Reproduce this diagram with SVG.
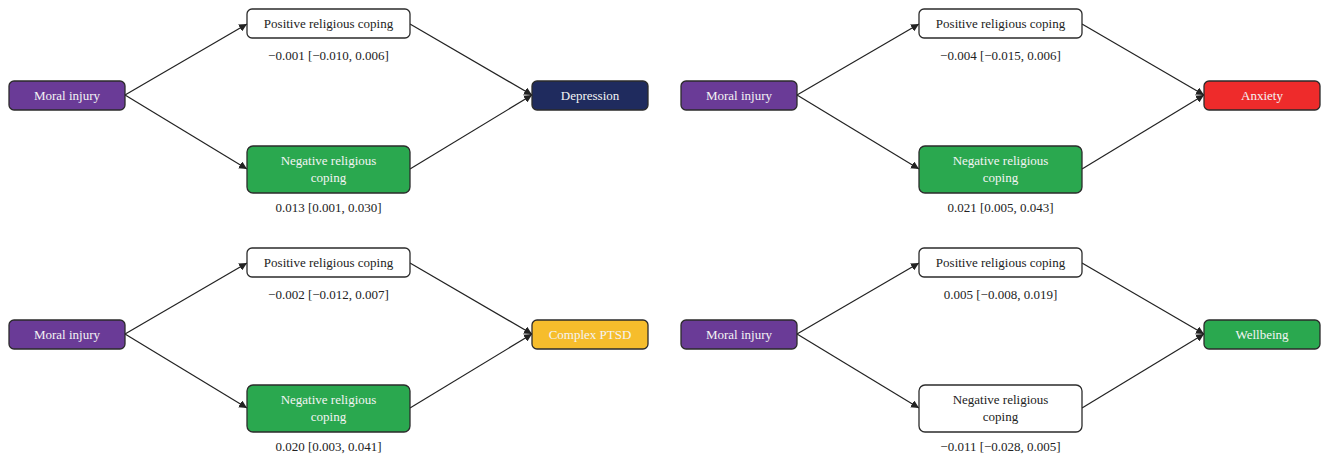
<svg xmlns="http://www.w3.org/2000/svg" width="1321" height="460" viewBox="0 0 1321 460">
<style>
.box{stroke:#2b2b2b;stroke-width:1.3}
.w{fill:#ffffff}
.pur{fill:#6a3b97}
.nav{fill:#1f2b5e}
.grn{fill:#2aa84f}
.red{fill:#ee2b2b}
.yel{fill:#f6bd2c}
text{font-family:"Liberation Serif","Times New Roman",serif;font-size:13px;text-anchor:middle}
.lt{fill:#f4f4f4}
.dk{fill:#222}
.edge{stroke:#222;stroke-width:1.2;fill:none;marker-end:url(#ah)}
</style>
<defs>
<marker id="ah" viewBox="0 0 10 10" refX="10" refY="5" markerWidth="8" markerHeight="8" markerUnits="userSpaceOnUse" orient="auto">
<path d="M0,0 L10,5 L0,10 z" fill="#222"/>
</marker>
</defs>
<g id="connectors">
<path class="edge" d="M125,95 L247,24"/>
<path class="edge" d="M125,95 L247,169"/>
<path class="edge" d="M410,24 L532,95"/>
<path class="edge" d="M410,169 L532,95"/>
<path class="edge" d="M797,95 L919,24"/>
<path class="edge" d="M797,95 L919,169"/>
<path class="edge" d="M1082,24 L1204,95"/>
<path class="edge" d="M1082,169 L1204,95"/>
<path class="edge" d="M125,334 L247,263"/>
<path class="edge" d="M125,334 L247,408"/>
<path class="edge" d="M410,263 L532,334"/>
<path class="edge" d="M410,408 L532,334"/>
<path class="edge" d="M797,334 L919,263"/>
<path class="edge" d="M797,334 L919,408"/>
<path class="edge" d="M1082,263 L1204,334"/>
<path class="edge" d="M1082,408 L1204,334"/>
</g>
<g id="mi1"><rect class="box pur" x="9" y="81" width="116" height="29" rx="5"/><text class="lt" x="67" y="99.5">Moral injury</text></g>
<g id="prc1"><rect class="box w" x="247" y="9" width="163" height="29" rx="5"/><text class="dk" x="328.5" y="27.5">Positive religious coping</text></g>
<text class="dk" x="328.5" y="60">−0.001 [−0.010, 0.006]</text>
<g id="nrc1"><rect class="box grn" x="247" y="146" width="163" height="47" rx="6"/><text class="lt" x="328.5" y="165">Negative religious</text><text class="lt" x="328.5" y="182">coping</text></g>
<text class="dk" x="328.5" y="212">0.013 [0.001, 0.030]</text>
<g id="dep"><rect class="box nav" x="532" y="81" width="116" height="29" rx="5"/><text class="lt" x="590" y="99.5">Depression</text></g>

<g id="mi2"><rect class="box pur" x="681" y="81" width="116" height="29" rx="5"/><text class="lt" x="739" y="99.5">Moral injury</text></g>
<g id="prc2"><rect class="box w" x="919" y="9" width="163" height="29" rx="5"/><text class="dk" x="1000.5" y="27.5">Positive religious coping</text></g>
<text class="dk" x="1000.5" y="60">−0.004 [−0.015, 0.006]</text>
<g id="nrc2"><rect class="box grn" x="919" y="146" width="163" height="47" rx="6"/><text class="lt" x="1000.5" y="165">Negative religious</text><text class="lt" x="1000.5" y="182">coping</text></g>
<text class="dk" x="1000.5" y="212">0.021 [0.005, 0.043]</text>
<g id="anx"><rect class="box red" x="1204" y="81" width="116" height="29" rx="5"/><text class="lt" x="1262" y="99.5">Anxiety</text></g>

<g id="mi3"><rect class="box pur" x="9" y="320" width="116" height="29" rx="5"/><text class="lt" x="67" y="338.5">Moral injury</text></g>
<g id="prc3"><rect class="box w" x="247" y="248" width="163" height="29" rx="5"/><text class="dk" x="328.5" y="266.5">Positive religious coping</text></g>
<text class="dk" x="328.5" y="299">−0.002 [−0.012, 0.007]</text>
<g id="nrc3"><rect class="box grn" x="247" y="385" width="163" height="47" rx="6"/><text class="lt" x="328.5" y="404">Negative religious</text><text class="lt" x="328.5" y="421">coping</text></g>
<text class="dk" x="328.5" y="451">0.020 [0.003, 0.041]</text>
<g id="ptsd"><rect class="box yel" x="532" y="320" width="116" height="29" rx="5"/><text class="lt" x="590" y="338.5">Complex PTSD</text></g>

<g id="mi4"><rect class="box pur" x="681" y="320" width="116" height="29" rx="5"/><text class="lt" x="739" y="338.5">Moral injury</text></g>
<g id="prc4"><rect class="box w" x="919" y="248" width="163" height="29" rx="5"/><text class="dk" x="1000.5" y="266.5">Positive religious coping</text></g>
<text class="dk" x="1000.5" y="299">0.005 [−0.008, 0.019]</text>
<g id="nrc4"><rect class="box w" x="919" y="385" width="163" height="47" rx="6"/><text class="dk" x="1000.5" y="404">Negative religious</text><text class="dk" x="1000.5" y="421">coping</text></g>
<text class="dk" x="1000.5" y="451">−0.011 [−0.028, 0.005]</text>
<g id="wb"><rect class="box grn" x="1204" y="320" width="116" height="29" rx="5"/><text class="lt" x="1262" y="338.5">Wellbeing</text></g>
</svg>
